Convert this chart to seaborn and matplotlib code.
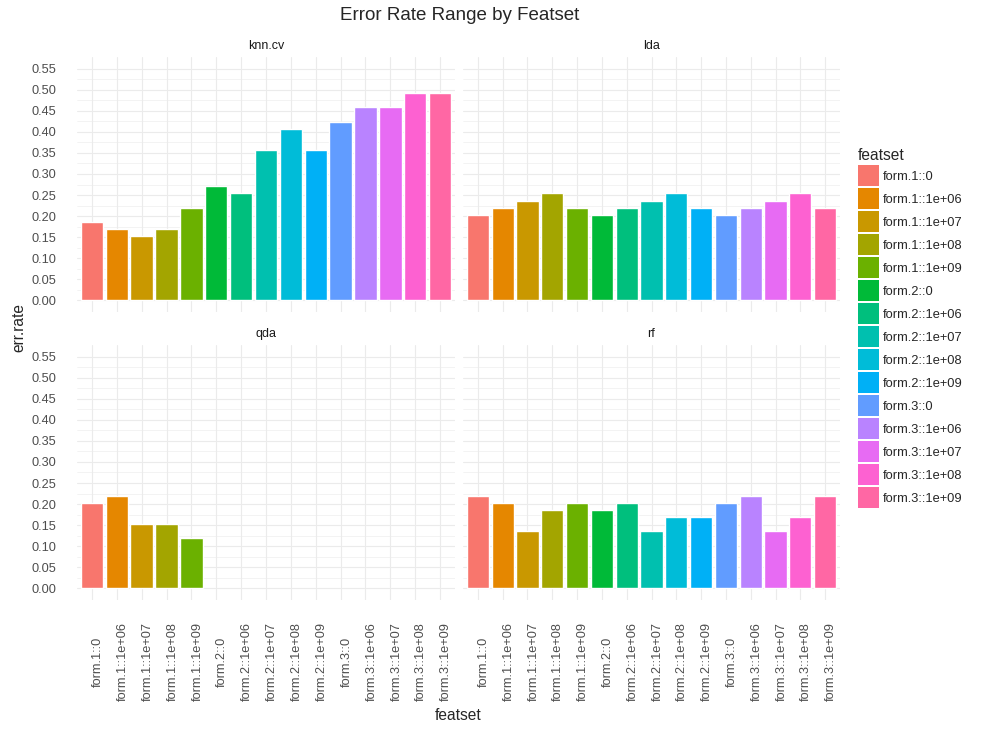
import numpy as np
import pandas as pd
import matplotlib
matplotlib.use("Agg")
import matplotlib.pyplot as plt
from matplotlib.patches import Patch
import seaborn as sns

# data
featsets = ["form.1::0", "form.1::1e+06", "form.1::1e+07", "form.1::1e+08", "form.1::1e+09",
            "form.2::0", "form.2::1e+06", "form.2::1e+07", "form.2::1e+08", "form.2::1e+09",
            "form.3::0", "form.3::1e+06", "form.3::1e+07", "form.3::1e+08", "form.3::1e+09"]
models = ["knn.cv", "lda", "qda", "rf"]
knn_cv = [0.186, 0.169, 0.153, 0.169, 0.220, 0.271, 0.254, 0.356, 0.407, 0.356, 0.424, 0.458, 0.458, 0.492, 0.492]
lda = [0.203, 0.220, 0.237, 0.254, 0.220, 0.203, 0.220, 0.237, 0.254, 0.220, 0.203, 0.220, 0.237, 0.254, 0.220]
qda = [0.203, 0.220, 0.153, 0.153, 0.119] + [np.nan] * 10
rf = [0.220, 0.203, 0.136, 0.186, 0.203, 0.186, 0.203, 0.136, 0.169, 0.169, 0.203, 0.220, 0.136, 0.169, 0.220]

colors = ["#F8766D", "#E58700", "#C99800", "#A3A500", "#6BB100", "#00BA38", "#00BF7D", "#00C0AF",
          "#00BCD8", "#00B0F6", "#619CFF", "#B983FF", "#E76BF3", "#FD61D1", "#FF67A4"]

df = pd.DataFrame({
    "model": np.repeat(models, len(featsets)),
    "featset": featsets * len(models),
    "err.rate": knn_cv + lda + qda + rf,
})

sns.set_style("white")
plt.rcParams["font.family"] = ["Liberation Sans", "DejaVu Sans"]

W, H = 989, 733
fig = plt.figure(figsize=(W / 100, H / 100), dpi=100)
palette = dict(zip(featsets, colors))

# panel boxes in pixels: left, top, right, bottom
boxes = [(77, 57, 455, 312), (463, 57, 840, 312), (77, 345, 455, 600), (463, 345, 840, 600)]

for i, (m, (l, t, r, b)) in enumerate(zip(models, boxes)):
    ax = fig.add_axes([l / W, 1 - b / H, (r - l) / W, (b - t) / H])
    sub = df[(df["model"] == m) & df["err.rate"].notna()]
    sns.barplot(data=sub, x="featset", y="err.rate", hue="featset", order=featsets,
                hue_order=featsets, palette=palette, saturation=1, width=0.9,
                errorbar=None, legend=False, dodge=False, ax=ax, zorder=2)
    ax.set_xlim(-0.6, len(featsets) - 0.4)
    ax.set_ylim(-0.0275, 0.5775)
    ax.set_yticks(np.arange(0, 0.56, 0.05))
    ax.set_yticks(np.arange(0.025, 0.56, 0.05), minor=True)
    ax.grid(True, which="major", color="#EBEBEB", linewidth=0.8, zorder=0)
    ax.grid(True, which="minor", axis="y", color="#EBEBEB", linewidth=0.4, zorder=0)
    ax.set_axisbelow(True)
    for s in ax.spines.values():
        s.set_visible(False)
    ax.tick_params(which="both", length=0)
    ax.set_xlabel("")
    ax.set_ylabel("")
    ax.set_title(m, fontsize=9, color="#1A1A1A", pad=5.8)
    if i % 2 == 0:
        ax.set_yticklabels([f"{v:.2f}" for v in np.arange(0, 0.56, 0.05)],
                           fontsize=9.2, color="#4D4D4D")
        ax.tick_params(axis="y", pad=15)
    else:
        ax.set_yticklabels([])
    if i >= 2:
        ax.set_xticks(range(len(featsets)))
        ax.set_xticklabels(featsets, rotation=90, fontsize=9.2, color="#4D4D4D",
                           ha="left", va="center")
        ax.tick_params(axis="x", pad=44.6)
    else:
        ax.set_xticklabels([])

fig.text(459.5 / W, 1 - 16 / H, "Error Rate Range by Featset", fontsize=13.5,
         ha="center", va="center")
fig.text(458 / W, 1 - 716 / H, "featset", fontsize=11.2, ha="center", va="center")
fig.text(19 / W, 1 - 328 / H, "err.rate", fontsize=11.2, rotation=90, ha="center", va="center")

handles = [Patch(facecolor=c, edgecolor="none") for c in colors]
fig.legend(handles, featsets, title="featset", loc="upper left",
           bbox_to_anchor=(858 / W, 1 - 148.5 / H), frameon=False, fontsize=9.3,
           title_fontsize=11.2, handlelength=1.63, handleheight=2.13,
           labelspacing=0.15, handletextpad=0.3, borderpad=0, borderaxespad=0,
           alignment="left")

fig.savefig("out.png", dpi=100)
